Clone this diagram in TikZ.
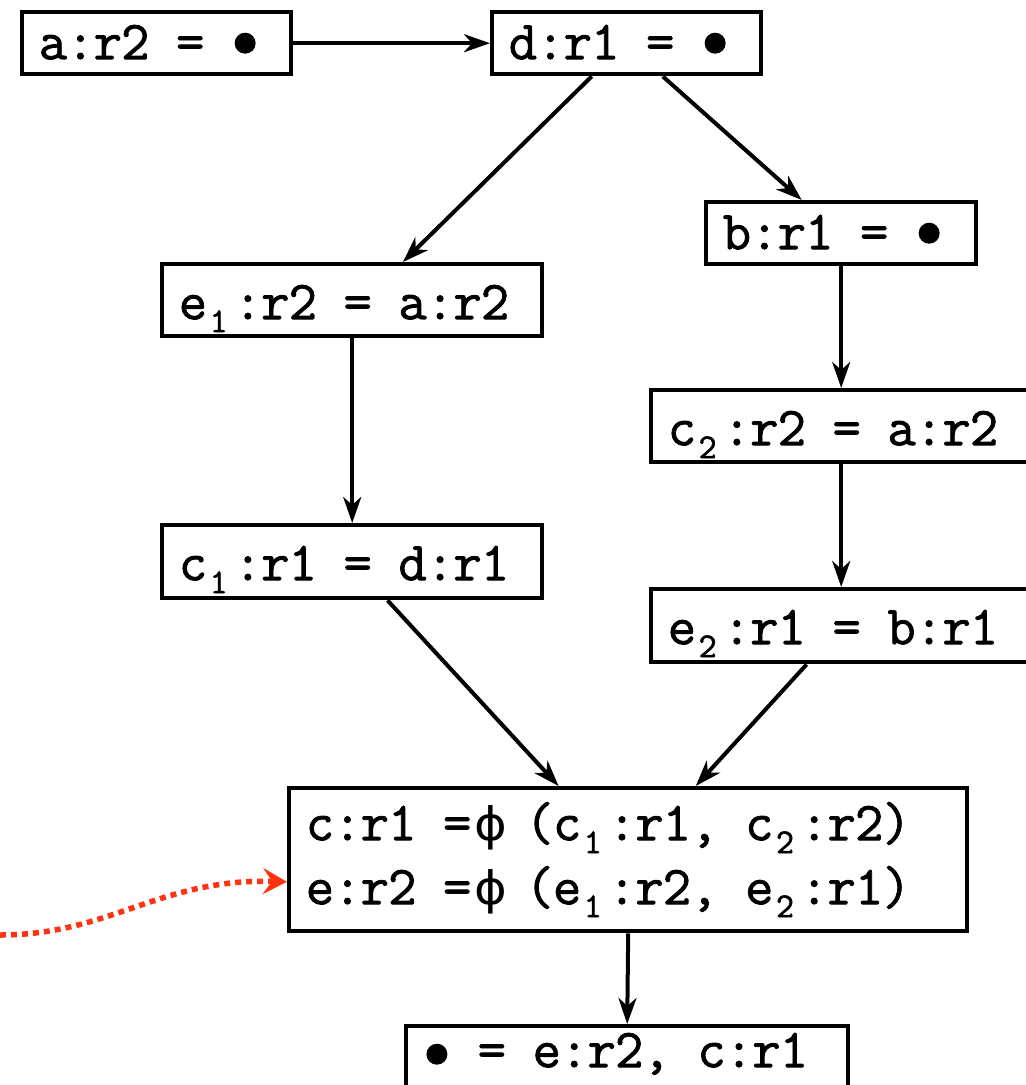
\documentclass[tikz,border=0pt]{standalone}
\usepackage{fontspec}
\newfontfamily\codefont{Latin Modern Mono}[FakeBold=1.5]
\newfontfamily\greekfont{DejaVu Sans}
\usetikzlibrary{arrows.meta,calc}
\definecolor{hintred}{HTML}{FF3311}
% one character cell of the monospaced text
\newlength\cellw
\setlength\cellw{27.46pt}
\newcommand\codestyle{\codefont\fontsize{55}{64}\selectfont}
% set a string cell by cell; ~ is a blank cell, {...} one cell
\ExplSyntaxOn
\NewDocumentCommand\cells{m}{\tl_map_inline:nn {#1}{\makebox[\cellw]{##1}}}
\ExplSyntaxOff
% lowered index digit
\newcommand\sbs[1]{\makebox[\cellw][l]{\hspace{3pt}\raisebox{-13pt}{\fontsize{35}{35}\selectfont #1}}}
% filled dot standing for an undefined value
\newcommand\blob[1][16pt]{\tikz[baseline=0pt]\fill (0,#1) circle (10.5pt);}
% phi of a merge, set a little to the right within its cell
\newcommand\phisym{\hspace{6pt}\scalebox{1.08}[1]{\greekfont\fontsize{46}{46}\selectfont ϕ}\hspace{-6pt}}
\begin{document}
\begin{tikzpicture}[x=1pt,y=-1pt,
  box/.style={draw, line width=4.4pt, anchor=north west, align=left,
    inner xsep=17pt, inner ysep=0pt, font=\codestyle},
  link/.style={line width=4pt, -{Stealth[length=26pt,width=18pt,inset=8pt]}},
  hint/.style={hintred, line width=5.5pt, dash pattern=on 6pt off 5pt,
    -{Stealth[length=24pt,width=26pt,inset=9pt]}}]
\useasboundingbox (0,0) rectangle (1026,1085);

% blocks of the control-flow graph
\node[box, text width=235pt, text height=47pt, text depth=15pt] (a) at (20,10) {\cells{a:r2~=~{\blob}}};
\node[box, text width=235pt, text height=47pt, text depth=15pt] (d) at (490,10) {\cells{d:r1~=~{\blob}}};
\node[box, text width=236pt, text height=47pt, text depth=15pt] (b) at (704,200) {\cells{b:r1~=~{\blob}}};
\node[box, text width=346pt, text height=55pt, text depth=17pt] (e1) at (160,262) {\cells{e{\sbs1}:r2~=~a:r2}};
\node[box, text width=346pt, text height=55pt, text depth=18pt] (c1) at (160,523) {\cells{c{\sbs1}:r1~=~d:r1}};
\node[box, text width=346pt, text height=55pt, text depth=17pt] (c2) at (649,388) {\cells{c{\sbs2}:r2~=~a:r2}};
\node[box, text width=346pt, text height=55pt, text depth=18pt] (e2) at (649,587) {\cells{e{\sbs2}:r1~=~b:r1}};
\node[box, text width=644pt, text height=52pt, text depth=91pt] (phi) at (287,786)
  {\cells{c:r1~={\phisym}~(c{\sbs1}:r1,~c{\sbs2}:r2)}\\
   \cells{e:r2~={\phisym}~(e{\sbs1}:r2,~e{\sbs2}:r1)}};
\node[box, text width=408pt, text height=41pt, text depth=31pt] (use) at (404,1024)
  {\cells{{\blob[13pt]}~=~e:r2,~c:r1}};

% control-flow edges
\draw[link] (a.east) -- (d.west);
\draw[link] ($(d.south west)!0.372!(d.south east)$) -- ($(e1.north west)!0.632!(e1.north east)$);
\draw[link] ($(d.south west)!0.632!(d.south east)$) -- ($(b.north west)!0.356!(b.north east)$);
\draw[link] (b.south) -- (c2.north);
\draw[link] (e1.south) -- (c1.north);
\draw[link] (c2.south) -- (e2.north);
\draw[link] ($(c1.south west)!0.592!(c1.south east)$) -- ($(phi.north west)!0.398!(phi.north east)$);
\draw[link] ($(e2.south west)!0.41!(e2.south east)$) -- ($(phi.north west)!0.599!(phi.north east)$);
\draw[link] (phi.south) -- (use.north);

% dotted pointer into the merge block
\coordinate (hintstart) at (0,935);
\draw[hint] (hintstart) .. controls (110,935) and (160,878) .. ($(phi.north west)!0.65!(phi.south west)$);
\end{tikzpicture}
\end{document}
